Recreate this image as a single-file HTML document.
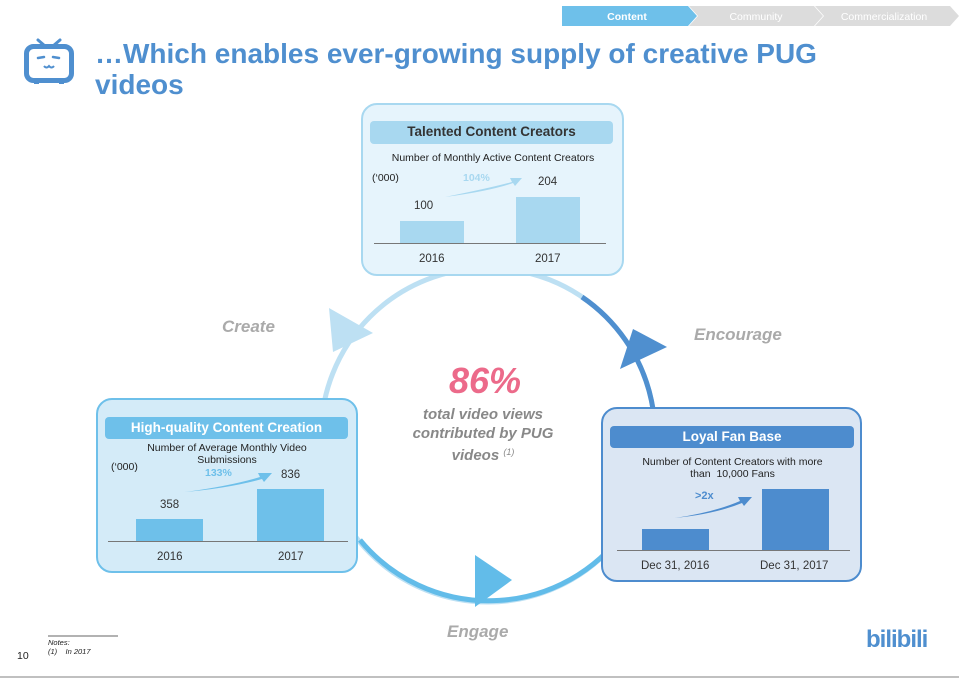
<!DOCTYPE html>
<html><head><meta charset="utf-8"><style>
body{margin:0;width:959px;height:679px;background:#fff;font-family:"Liberation Sans",sans-serif;overflow:hidden;position:relative}
.abs{position:absolute}
.t{position:absolute;white-space:nowrap}
</style></head><body>
<svg class="abs" style="left:0;top:0" width="959" height="679">
  <polygon points="562,6 688,6 697,16 688,26 562,26" fill="#6ec0ea"/>
  <polygon points="689,6 814,6 823,16 814,26 689,26 698,16" fill="#dcdcdc"/>
  <polygon points="815,6 950,6 959,16 950,26 815,26 824,16" fill="#dcdcdc"/>
  <text x="627" y="20" font-size="10.5" font-weight="bold" fill="#fff" text-anchor="middle" font-family="Liberation Sans">Content</text>
  <text x="756" y="20" font-size="10.5" fill="#fff" text-anchor="middle" font-family="Liberation Sans">Community</text>
  <text x="884" y="20" font-size="10.5" fill="#fff" text-anchor="middle" font-family="Liberation Sans">Commercialization</text>
  <line x1="38" y1="40" x2="45" y2="46" stroke="#4f8fcf" stroke-width="3" stroke-linecap="round"/>
  <line x1="53" y1="46" x2="60" y2="40" stroke="#4f8fcf" stroke-width="3" stroke-linecap="round"/>
  <rect x="26.5" y="46.5" width="45" height="34" rx="7" fill="none" stroke="#4f8fcf" stroke-width="5"/>
  <rect x="34" y="80" width="5" height="4" fill="#4f8fcf"/><rect x="59" y="80" width="5" height="4" fill="#4f8fcf"/>
  <path d="M38 58 l6 -1 M53 57 l6 1" stroke="#4f8fcf" stroke-width="2.5" stroke-linecap="round"/>
  <path d="M44 66 q2.5 3 5 0 q2.5 3 5 0" stroke="#4f8fcf" stroke-width="2" fill="none"/>
  <circle cx="488" cy="435" r="167" fill="none" stroke="#bde0f3" stroke-width="5"/>
  <path d="M582 297 A167 167 0 0 1 630 523" fill="none" stroke="#4f8fcf" stroke-width="5"/>
  <path d="M360 540 A167 167 0 0 0 630 523" fill="none" stroke="#62bce9" stroke-width="5"/>
  <polygon points="329,308 373,333 333,352" fill="#bde0f3"/>
  <polygon points="633,329 667,347 620,369" fill="#4f8fcf"/>
  <polygon points="475,555 512,580 475,607" fill="#62bce9"/>
  <line x1="0" y1="677" x2="959" y2="677" stroke="#c0c0c0" stroke-width="2"/>
  <line x1="48" y1="636" x2="118" y2="636" stroke="#333" stroke-width="0.7"/>
</svg>

<div class="t" style="left:95px;top:38px;font-size:28px;font-weight:bold;color:#4f8fcf;line-height:31px;white-space:normal;width:760px">…Which enables ever-growing supply of creative PUG videos</div>

<div class="abs" style="left:361px;top:103px;width:259px;height:169px;border:2.5px solid #a8d8f0;border-radius:16px;background:#e6f4fc"></div>
<div class="abs" style="left:370px;top:121px;width:243px;height:23px;background:#a8d8f0;border-radius:4px"></div>
<div class="t" style="left:370px;top:124px;width:243px;text-align:center;font-size:13.5px;font-weight:bold;color:#333">Talented Content Creators</div>
<div class="t" style="left:361px;top:152px;width:264px;text-align:center;font-size:10.5px;color:#222">Number of Monthly Active Content Creators</div>
<div class="t" style="left:372px;top:172px;font-size:10.5px;color:#222">(‘000)</div>
<div class="t" style="left:463px;top:172px;font-size:10.5px;font-weight:bold;color:#a8d8f0">104%</div>
<svg class="abs" style="left:440px;top:172px" width="90" height="30"><path d="M5 25 Q50 16 72 10 L70 6 L82 6 L75 14 L73 11 Q50 19 5 25Z" fill="#a8d8f0"/></svg>
<div class="t" style="left:414px;top:200px;font-size:11.5px;color:#333">100</div>
<div class="t" style="left:538px;top:176px;font-size:11.5px;color:#333">204</div>
<div class="abs" style="left:400px;top:221px;width:64px;height:22px;background:#a8d8f0"></div>
<div class="abs" style="left:516px;top:197px;width:64px;height:46px;background:#a8d8f0"></div>
<div class="abs" style="left:374px;top:243px;width:232px;height:1px;background:#777"></div>
<div class="t" style="left:419px;top:253px;font-size:11.5px;color:#333">2016</div>
<div class="t" style="left:535px;top:253px;font-size:11.5px;color:#333">2017</div>

<div class="abs" style="left:96px;top:398px;width:258px;height:171px;border:2.5px solid #6ec0ea;border-radius:16px;background:#d4ebf8"></div>
<div class="abs" style="left:105px;top:417px;width:243px;height:22px;background:#6ec0ea;border-radius:4px"></div>
<div class="t" style="left:105px;top:420px;width:243px;text-align:center;font-size:13.5px;font-weight:bold;color:#fff">High-quality Content Creation</div>
<div class="t" style="left:96px;top:442px;width:262px;text-align:center;font-size:10.5px;color:#222;line-height:12px">Number of Average Monthly Video<br>Submissions</div>
<div class="t" style="left:111px;top:461px;font-size:10.5px;color:#222">(‘000)</div>
<div class="t" style="left:205px;top:467px;font-size:10.5px;font-weight:bold;color:#6ec0ea">133%</div>
<svg class="abs" style="left:180px;top:468px" width="100" height="30"><path d="M5 24 Q50 18 80 9 L78 5 L92 5 L84 14 L82 11 Q50 20 5 24Z" fill="#6ec0ea"/></svg>
<div class="t" style="left:160px;top:499px;font-size:11.5px;color:#333">358</div>
<div class="t" style="left:281px;top:469px;font-size:11.5px;color:#333">836</div>
<div class="abs" style="left:136px;top:519px;width:67px;height:22px;background:#6ec0ea"></div>
<div class="abs" style="left:257px;top:489px;width:67px;height:52px;background:#6ec0ea"></div>
<div class="abs" style="left:108px;top:541px;width:240px;height:1px;background:#777"></div>
<div class="t" style="left:157px;top:551px;font-size:11.5px;color:#333">2016</div>
<div class="t" style="left:278px;top:551px;font-size:11.5px;color:#333">2017</div>

<div class="abs" style="left:601px;top:407px;width:257px;height:171px;border:2.5px solid #4d8cce;border-radius:16px;background:#dbe6f3"></div>
<div class="abs" style="left:610px;top:426px;width:244px;height:22px;background:#4d8cce;border-radius:4px"></div>
<div class="t" style="left:610px;top:429px;width:244px;text-align:center;font-size:13.5px;font-weight:bold;color:#fff">Loyal Fan Base</div>
<div class="t" style="left:601px;top:456px;width:263px;text-align:center;font-size:10.5px;color:#222;line-height:12px">Number of Content Creators with more<br>than&nbsp; 10,000 Fans</div>
<div class="t" style="left:695px;top:490px;font-size:11px;font-weight:bold;color:#4d8cce">&gt;2x</div>
<svg class="abs" style="left:670px;top:492px" width="90" height="30"><path d="M5 26 Q45 20 70 9 L68 5 L82 5 L74 14 L72 11 Q45 22 5 26Z" fill="#4d8cce"/></svg>
<div class="abs" style="left:642px;top:529px;width:67px;height:21px;background:#4d8cce"></div>
<div class="abs" style="left:762px;top:489px;width:67px;height:61px;background:#4d8cce"></div>
<div class="abs" style="left:617px;top:550px;width:233px;height:1px;background:#777"></div>
<div class="t" style="left:641px;top:560px;font-size:11.5px;color:#333">Dec 31, 2016</div>
<div class="t" style="left:760px;top:560px;font-size:11.5px;color:#333">Dec 31, 2017</div>

<div class="t" style="left:222px;top:317px;font-size:17px;font-weight:bold;font-style:italic;color:#aaa">Create</div>
<div class="t" style="left:694px;top:325px;font-size:17px;font-weight:bold;font-style:italic;color:#aaa">Encourage</div>
<div class="t" style="left:447px;top:622px;font-size:17px;font-weight:bold;font-style:italic;color:#aaa">Engage</div>
<div class="t" style="left:435px;top:360px;width:100px;text-align:center;font-size:36px;font-weight:bold;font-style:italic;color:#ec6a8a">86%</div>
<div class="t" style="left:398px;top:405px;width:170px;text-align:center;font-size:15px;font-weight:bold;font-style:italic;color:#888;line-height:19px;white-space:normal">total video views contributed by PUG videos <sup style="font-size:9px;font-weight:normal;vertical-align:5px">(1)</sup></div>

<div class="t" style="left:17px;top:650px;font-size:10.5px;color:#222">10</div>
<div class="t" style="left:48px;top:638px;font-size:7.5px;font-style:italic;color:#222;line-height:9px">Notes:<br>(1)&nbsp;&nbsp;&nbsp; In 2017</div>
<div class="t" style="left:866px;top:626px;font-size:24px;font-weight:bold;color:#4f8fcf;letter-spacing:-1px">bilibili</div>
</body></html>
